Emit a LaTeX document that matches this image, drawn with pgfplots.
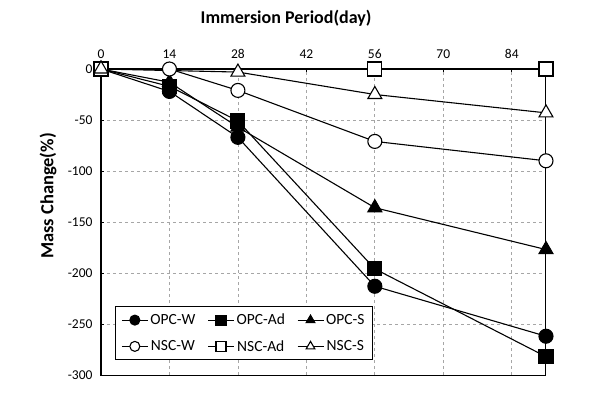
\documentclass[border=0pt]{standalone}
\usepackage{fontspec}
\setmainfont{Carlito}
\usepackage{pgfplots}
\pgfplotsset{compat=1.18}
\begin{document}
\begin{tikzpicture}
\path[use as bounding box] (-101pt,-19pt) rectangle (499pt,375pt);
\begin{axis}[
  scale only axis, width=445pt, height=306pt,
  xmin=0, xmax=91, ymin=-300, ymax=0,
  xtick={0,14,28,42,56,70,84},
  ytick={-300,-250,-200,-150,-100,-50,0},
  xticklabel pos=upper, xtick pos=upper, ytick pos=left,
  tick align=inside, major tick length=3pt,
  tick style={black, line width=1pt},
  grid=major, grid style={dashed, gray!70, line width=0.8pt},
  axis line style={black, line width=1pt},
  /pgf/number format/assume math mode=true,
  ticklabel style={font=\fontsize{13.5}{15}\selectfont},
  xticklabel style={anchor=south, yshift=7pt},
  yticklabel style={xshift=-5pt},
  every axis plot/.append style={black, line width=1.1pt, mark options={solid, line width=1pt}},
  legend columns=3,
  legend style={at={(rel axis cs:0.031,0.049)}, anchor=south west, draw=black, line width=1pt,
     font=\fontsize{15.5}{17}\selectfont, row sep=10pt, inner xsep=6pt, inner ysep=5pt,
     /tikz/every even column/.append style={column sep=10pt}},
  legend image code/.code={\draw[mark repeat=2,mark phase=2,mark size=5pt] plot coordinates {(0pt,0pt)(13pt,0pt)(26pt,0pt)};},
  clip=false,
]
\addplot[mark=*, mark size=7pt, mark options={fill=black}] coordinates {(0,0)(14,-22)(28,-67)(56,-213)(91,-262)};
\addlegendentry{OPC-W}
\addplot[mark=square*, mark size=7pt, mark options={fill=black}] coordinates {(0,0)(14,-17)(28,-51)(56,-196)(91,-282)};
\addlegendentry{OPC-Ad}
\addplot[mark=triangle*, mark size=8pt, mark options={fill=black}] coordinates {(0,0)(14,-13)(28,-57)(56,-136)(91,-177)};
\addlegendentry{OPC-S}
\addplot[mark=*, mark size=7pt, mark options={fill=white}] coordinates {(0,0)(14,0)(28,-21)(56,-71)(91,-90)};
\addlegendentry{NSC-W}
\addplot[mark=square*, mark size=7pt, mark options={fill=white}] coordinates {(0,0)(56,0)(91,0)};
\addlegendentry{NSC-Ad}
\addplot[mark=triangle*, mark size=8pt, mark options={fill=white}] coordinates {(0,0)(28,-3)(56,-25)(91,-43)};
\addlegendentry{NSC-S}
\draw[black, line width=2.5pt] (rel axis cs:0,0) -- (rel axis cs:0,1) -- (rel axis cs:1,1);
\node[font=\bfseries\fontsize{18}{20}\selectfont] at (rel axis cs:0.416,1.167) {Immersion Period(day)};
\node[font=\bfseries\fontsize{18.5}{20}\selectfont, rotate=90] at ([xshift=-53pt]rel axis cs:0,0.585) {Mass Change(\%)};
\end{axis}
\end{tikzpicture}
\end{document}
